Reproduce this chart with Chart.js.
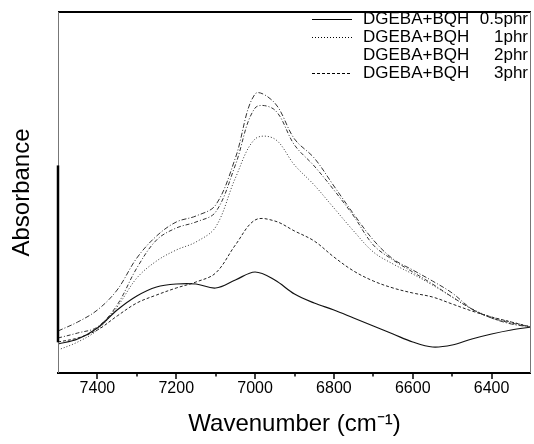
<!DOCTYPE html>
<html>
<head>
<meta charset="utf-8">
<script src="https://cdn.jsdelivr.net/npm/chart.js@4"></script>
<style>
  html, body { margin:0; padding:0; background:#fff; }
  #c { display:block; }
</style>
</head>
<body>
<canvas id="c" width="534" height="444"></canvas>
<script>
// wavenumbers (cm-1)
const wavenumbers = [7500,7450,7400,7350,7300,7250,7200,7150,7100,7050,7000,6950,6900,6850,6800,6750,6700,6650,6600,6550,6500,6450,6400,6350,6300];
// absorbance (a.u.)
const s05  = [0.029,0.034,0.045,0.063,0.077,0.086,0.089,0.089,0.085,0.093,0.101,0.093,0.079,0.070,0.063,0.055,0.047,0.039,0.031,0.026,0.028,0.034,0.039,0.043,0.046];
const s1   = [0.023,0.031,0.043,0.066,0.095,0.112,0.123,0.131,0.146,0.195,0.234,0.234,0.208,0.188,0.165,0.142,0.121,0.109,0.099,0.088,0.076,0.064,0.056,0.051,0.046];
const s2   = [0.042,0.051,0.063,0.083,0.115,0.137,0.151,0.157,0.168,0.215,0.279,0.270,0.234,0.215,0.187,0.159,0.133,0.114,0.103,0.092,0.080,0.064,0.055,0.049,0.046];
const s3   = [0.031,0.035,0.043,0.057,0.070,0.078,0.085,0.091,0.100,0.128,0.153,0.152,0.142,0.132,0.116,0.102,0.092,0.085,0.080,0.076,0.069,0.062,0.056,0.051,0.046];
const sExt = [0.035,0.040,0.046,0.068,0.105,0.133,0.145,0.151,0.161,0.208,0.265,0.263,0.228,0.207,0.183,0.157,0.128,0.113,0.101,0.089,0.076,0.064,0.055,0.050,0.046];
const majorTicks = [7400,7200,7000,6800,6600,6400];
const minorTicks = [7300,7100,6900,6700,6500];
const legendNames = ['DGEBA+BQH','DGEBA+BQH','DGEBA+BQH','DGEBA+BQH'];
const legendAmounts = ['0.5phr','1phr','2phr','3phr'];

const FONT = "'Liberation Sans', Arial, sans-serif";
const pts = arr => arr.map((y,i)=>({x:wavenumbers[i], y}));

const datasets = [
  {label: legendNames[0]+' '+legendAmounts[0], data: pts(s05), borderColor:'#111', borderWidth:1.2, borderDash:[], legendSample:true},
  {label: legendNames[1]+' '+legendAmounts[1], data: pts(s1), borderColor:'#333', borderWidth:1, borderDash:[1,2], legendSample:true},
  {label: legendNames[2]+' '+legendAmounts[2], data: pts(s2), borderColor:'#333', borderWidth:1, borderDash:[5,2,1,2], legendSample:false},
  {label: legendNames[3]+' '+legendAmounts[3], data: pts(s3), borderColor:'#222', borderWidth:1, borderDash:[3,2], legendSample:true},
  {label: '', data: pts(sExt), borderColor:'#333', borderWidth:1, borderDash:[4,2,1,2], legendSample:false}
];
datasets.forEach(d=>{ d.pointRadius=0; d.fill=false; d.tension=0.35; });

const framePlugin = {
  id:'frame',
  afterDraw(chart){
    const {ctx, chartArea:a, scales:{x}} = chart;
    ctx.save();
    // frame
    ctx.strokeStyle='#000';
    ctx.lineWidth=2;
    ctx.beginPath(); ctx.moveTo(a.left, a.top); ctx.lineTo(a.right, a.top); ctx.stroke();
    ctx.beginPath(); ctx.moveTo(a.left-1, a.bottom); ctx.lineTo(a.right, a.bottom); ctx.stroke();
    ctx.lineWidth=1;
    ctx.strokeStyle='#777';
    ctx.beginPath(); ctx.moveTo(a.right-0.5, a.top); ctx.lineTo(a.right-0.5, a.bottom); ctx.stroke();
    ctx.beginPath(); ctx.moveTo(a.left+0.5, a.top); ctx.lineTo(a.left+0.5, a.bottom); ctx.stroke();
    const h = a.bottom - a.top;
    ctx.strokeStyle='#000';
    ctx.lineWidth=2.5;
    ctx.beginPath(); ctx.moveTo(a.left, a.top + h*0.425); ctx.lineTo(a.left, a.top + h*0.915); ctx.stroke();
    // ticks
    ctx.lineWidth=1.5;
    majorTicks.forEach(v=>{ const px = Math.round(x.getPixelForValue(v)); ctx.beginPath(); ctx.moveTo(px, a.bottom); ctx.lineTo(px, a.bottom+6); ctx.stroke(); });
    minorTicks.forEach(v=>{ const px = Math.round(x.getPixelForValue(v)); ctx.beginPath(); ctx.moveTo(px, a.bottom); ctx.lineTo(px, a.bottom+3.5); ctx.stroke(); });
    // legend
    ctx.font = '17px ' + FONT;
    ctx.textBaseline='middle';
    ctx.fillStyle='#000';
    const items = chart.data.datasets.filter(d=>d.label);
    items.forEach((d,i)=>{
      const y = Math.round(a.top + 7 + i*18);
      if (d.legendSample){
        ctx.strokeStyle = '#000'; ctx.lineWidth = 1;
        ctx.setLineDash(d.borderDash);
        ctx.beginPath(); ctx.moveTo(a.right-219, y+0.5); ctx.lineTo(a.right-179, y+0.5); ctx.stroke();
        ctx.setLineDash([]);
      }
      const parts = d.label.split(' ');
      ctx.textAlign='left'; ctx.fillText(parts[0], a.right-168, y);
      ctx.textAlign='right'; ctx.fillText(parts[1], a.right-3, y);
    });
    ctx.restore();
  }
};

new Chart(document.getElementById('c'), {
  type:'line',
  data:{datasets},
  options:{
    responsive:false, animation:false,
    layout:{padding:{top:12, right:3, left:0, bottom:0}},
    scales:{
      x:{type:'linear', reverse:true, min:6300, max:7500,
         afterBuildTicks: s=>{ s.ticks = majorTicks.map(v=>({value:v})); },
         afterFit: s=>{ s.height = 71; },
         ticks:{callback:v=>String(v), font:{family:FONT, size:16}, color:'#000', padding:6, maxRotation:0, autoSkip:false},
         grid:{display:false, drawTicks:false}, border:{display:false},
         title:{display:true, text:'Wavenumber (cm\u207B\u00B9)', color:'#000', font:{family:FONT, size:24}, padding:{top:0,bottom:5}}
      },
      y:{min:0, max:0.361,
         afterFit: s=>{ s.width = 58; },
         ticks:{display:false}, grid:{display:false, drawTicks:false}, border:{display:false},
         title:{display:true, text:'Absorbance', color:'#000', font:{family:FONT, size:24}, padding:{top:8,bottom:0}}
      }
    },
    plugins:{legend:{display:false}, tooltip:{enabled:false}}
  },
  plugins:[framePlugin]
});
</script>
</body>
</html>
